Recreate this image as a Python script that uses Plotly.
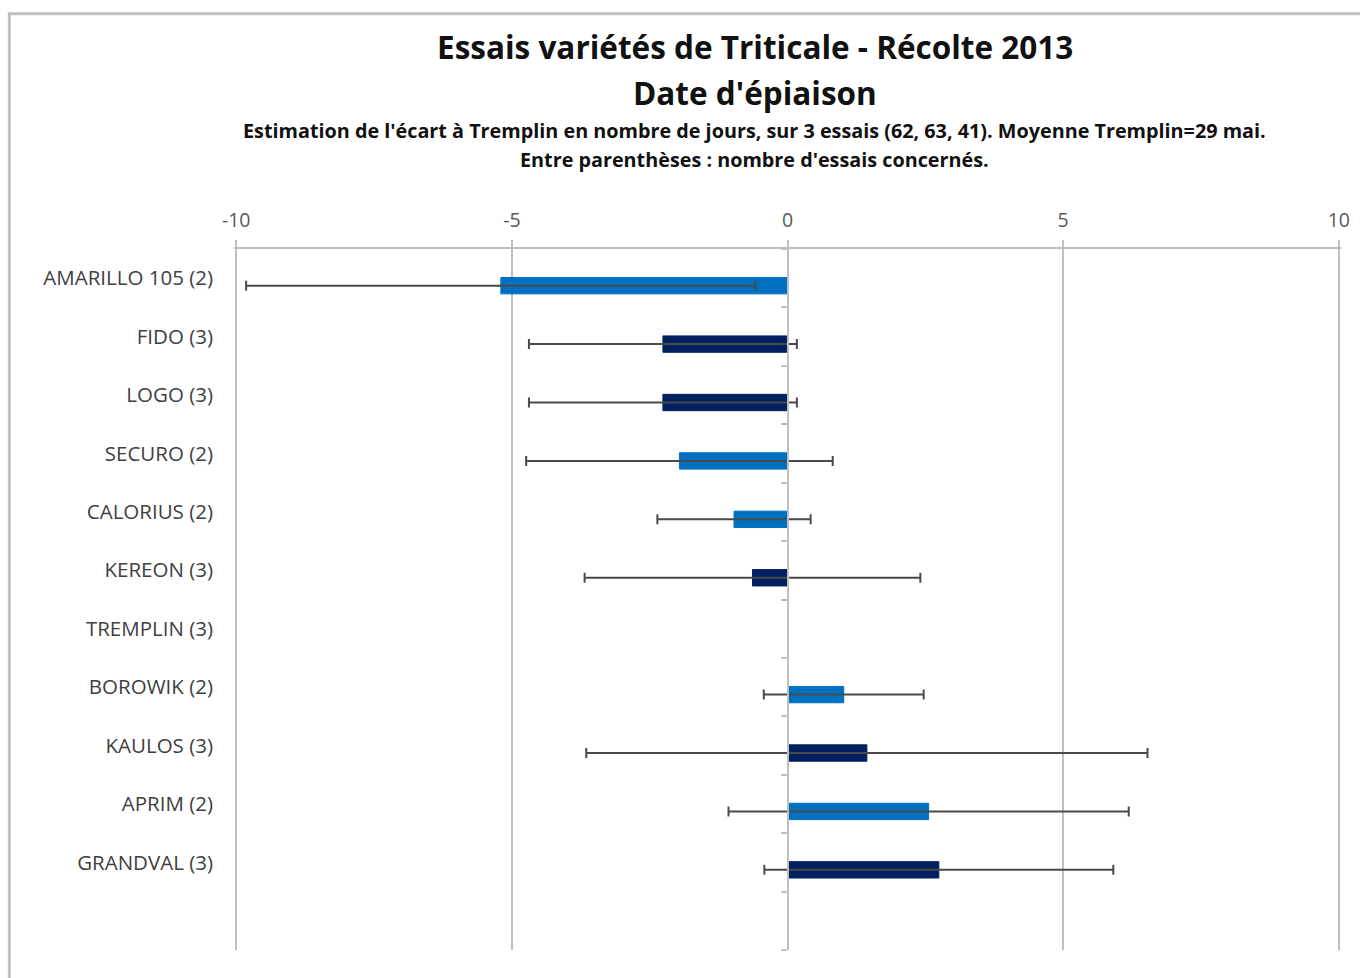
import plotly.graph_objects as go

# ---- data ----
varieties = ["AMARILLO 105", "FIDO", "LOGO", "SECURO", "CALORIUS", "KEREON",
             "TREMPLIN", "BOROWIK", "KAULOS", "APRIM", "GRANDVAL"]
n_essais = [2, 3, 3, 2, 2, 3, 3, 2, 3, 2, 3]
ecart_jours = [-5.20, -2.26, -2.26, -1.96, -0.97, -0.635, 0.0, 1.02, 1.44, 2.56, 2.745]
erreur_jours = [4.62, 2.43, 2.43, 2.78, 1.39, 3.045, None, 1.45, 5.09, 3.63, 3.165]
x_ticks = [-10, -5, 0, 5, 10]

labels = [f"{v} ({n})" for v, n in zip(varieties, n_essais)]
n_slots = len(varieties) + 1  # one empty slot at the bottom
positions = list(range(len(varieties)))
bar_shift = 0.128
bar_width = 0.28

COL2 = "#0070C0"
COL3 = "#002060"
GRID = "#BFBFBF"
FONT = "'Open Sans', Lato, sans-serif"

W, H = 1360, 978
ML, MR, MT, MB = 234, 10, 248.5, 27.5
PW, PH = W - ML - MR, H - MT - MB


def px_x(x):
    return (x - ML) / PW


def px_y(y):
    return (H - MB - y) / PH


def series(nsel):
    ys, xs, es = [], [], []
    for p, n, v, e in zip(positions, n_essais, ecart_jours, erreur_jours):
        if n == nsel and e is not None:
            ys.append(p + bar_shift)
            xs.append(v)
            es.append(e)
    return ys, xs, es


fig = go.Figure()
for nsel, col, yax, name in [(2, COL2, "y", "2 essais"), (3, COL3, "y2", "3 essais")]:
    ys, xs, es = series(nsel)
    fig.add_trace(go.Bar(
        y=ys, x=xs, orientation="h", width=bar_width, name=name,
        marker=dict(color=col, line=dict(color=col, width=1)),
        error_x=dict(type="data", array=es, symmetric=True, color="#4A4A4A",
                     thickness=2, width=5),
        yaxis=yax, showlegend=False, hoverinfo="x+y",
    ))

fig.update_layout(
    width=W, height=H,
    margin=dict(l=ML, r=MR, t=MT, b=MB),
    paper_bgcolor="white", plot_bgcolor="white",
    barmode="overlay",
    font=dict(family=FONT, color="#404040"),
    xaxis=dict(
        side="top", range=[-10.04, 10.04], tickvals=x_ticks,
        ticktext=[str(t) for t in x_ticks],
        showgrid=True, gridcolor=GRID, gridwidth=1.5,
        showline=True, linecolor=GRID, linewidth=1.5,
        ticks="outside", ticklen=7, tickcolor=GRID, tickwidth=1.5,
        zeroline=False, tickfont=dict(size=19.5, color="#595959"),
        ticklabelstandoff=5,
    ),
    yaxis=dict(
        range=[n_slots - 0.5, -0.5], tickvals=positions, ticktext=labels,
        showgrid=False, showline=False, zeroline=False, ticks="",
        tickfont=dict(size=20.5, color="#404040"), ticklabelstandoff=20,
    ),
    yaxis2=dict(
        overlaying="y", anchor="free", position=0.5,
        range=[n_slots - 0.5, -0.5],
        tickvals=[i - 0.5 for i in range(n_slots + 1)],
        showticklabels=False, showgrid=False, zeroline=False,
        showline=True, linecolor=GRID, linewidth=1.5,
        ticks="outside", ticklen=6, tickcolor=GRID, tickwidth=1.5,
    ),
)

# outer chart-area border
fig.add_shape(type="rect", xref="paper", yref="paper",
              x0=px_x(7.5), x1=px_x(1380), y0=px_y(1000), y1=px_y(13),
              line=dict(color="#C0C0C0", width=3), fillcolor="rgba(0,0,0,0)",
              layer="below")

texts = [
    ("Essais variétés de Triticale - Récolte 2013", 46, 31.5),
    ("Date d'épiaison", 92, 31.5),
    ("Estimation de l'écart à Tremplin en nombre de jours, sur 3 essais (62, 63, 41). Moyenne Tremplin=29 mai.", 130, 19.8),
    ("Entre parenthèses : nombre d'essais concernés.", 159, 19.8),
]
for txt, ypx, size in texts:
    fig.add_annotation(
        x=px_x(759), y=px_y(ypx), xref="paper", yref="paper",
        text=f"<b>{txt}</b>", showarrow=False, xanchor="center", yanchor="middle",
        font=dict(family=FONT, size=size, color="#111111"),
    )

fig.write_html("out.html", config={"displayModeBar": False},
               post_script="document.body.style.margin='0';")
